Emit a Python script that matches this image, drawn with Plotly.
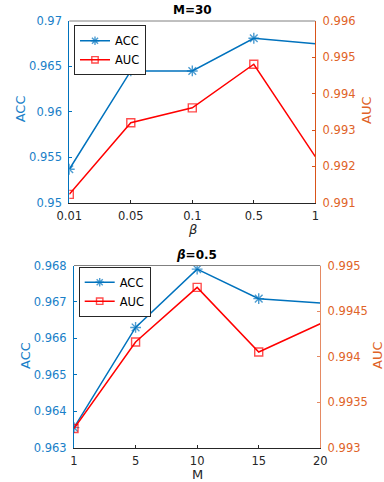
import plotly.graph_objects as go

# ---- data ----
beta_labels = ["0.01", "0.05", "0.1", "0.5", "1"]
acc_beta = [0.95368, 0.9645, 0.9645, 0.9681, 0.9675]
auc_beta = [0.99123, 0.99320, 0.99361, 0.99481, 0.99227]

m_labels = ["1", "5", "10", "15", "20"]
acc_m = [0.96355, 0.96630, 0.96790, 0.96709, 0.96697]
auc_m = [0.99321, 0.99416, 0.99476, 0.99405, 0.99436]

acc_ticks_top = [0.95, 0.955, 0.96, 0.965, 0.97]
acc_ticktext_top = ["0.95", "0.955", "0.96", "0.965", "0.97"]
auc_ticks_top = [0.991, 0.992, 0.993, 0.994, 0.995, 0.996]
auc_ticktext_top = ["0.991", "0.992", "0.993", "0.994", "0.995", "0.996"]

acc_ticks_bot = [0.963, 0.964, 0.965, 0.966, 0.967, 0.968]
acc_ticktext_bot = ["0.963", "0.964", "0.965", "0.966", "0.967", "0.968"]
auc_ticks_bot = [0.993, 0.9935, 0.994, 0.9945, 0.995]
auc_ticktext_bot = ["0.993", "0.9935", "0.994", "0.9945", "0.995"]

# ---- style ----
W, H = 384, 482
FONT = "DejaVu Sans"
BLUE = "#0072BD"
BLUE_T = "#1a80c8"
ORANGE = "#D95319"
ORANGE_T = "#e06328"
RED = "#FF0000"
DARK = "#262626"

def px_x(v):
    return v / W

def px_y(v):
    return 1 - v / H

top_x = [px_x(69.3), px_x(315.3)]
top_y = [px_y(202.7), px_y(21)]
bot_x = [px_x(74), px_x(320.3)]
bot_y = [px_y(447.7), px_y(265.5)]

acc_sizes = [9, 9, 9, 9, 0]
auc_sizes = [8, 8, 8, 8, 0]

fig = go.Figure()

def add_pair(xs, acc, auc, xa, ya, yb, leg):
    fig.add_trace(go.Scatter(
        x=xs, y=acc, name="ACC", mode="lines+markers",
        line=dict(color=BLUE, width=1.5),
        marker=dict(symbol="asterisk-open", size=acc_sizes, color=BLUE,
                    line=dict(color=BLUE, width=1.4)),
        xaxis=xa, yaxis=ya, legend=leg))
    fig.add_trace(go.Scatter(
        x=xs, y=auc, name="AUC", mode="lines+markers",
        line=dict(color=RED, width=1.5),
        marker=dict(symbol="square-open", size=auc_sizes, color=RED,
                    line=dict(color=RED, width=1.4)),
        xaxis=xa, yaxis=yb, legend=leg))

add_pair(beta_labels, acc_beta, auc_beta, "x", "y", "y2", "legend")
add_pair(m_labels, acc_m, auc_m, "x2", "y3", "y4", "legend2")

TS = 11.5

def xax(domain, anchor):
    return dict(type="category", domain=domain, anchor=anchor, range=[0, 4],
                showgrid=False, zeroline=False, showline=True, automargin=False,
                linecolor=DARK, linewidth=1, ticks="inside", ticklen=3, tickcolor=DARK,
                tickfont=dict(family=FONT, size=TS, color=DARK), ticklabelstandoff=2,
                fixedrange=True)

def yax(rng, vals, texts, color, tcolor, side, **kw):
    d = dict(range=rng, tickvals=vals, ticktext=texts, side=side,
             showgrid=False, zeroline=False, showline=True, automargin=False,
             linecolor=color, linewidth=1, ticks="inside", ticklen=3, tickcolor=color,
             tickfont=dict(family=FONT, size=TS, color=tcolor), ticklabelstandoff=4,
             fixedrange=True)
    d.update(kw)
    return d

leg_common = dict(xanchor="left", yanchor="top", bgcolor="white", bordercolor=DARK,
                  borderwidth=1, font=dict(family=FONT, size=11.5, color="black"),
                  itemwidth=30, tracegroupgap=0)

fig.update_layout(
    template="none",
    width=W, height=H, margin=dict(l=0, r=0, t=0, b=0, pad=0),
    paper_bgcolor="white", plot_bgcolor="white",
    xaxis=xax(top_x, "y"),
    yaxis=yax([0.95, 0.97], acc_ticks_top, acc_ticktext_top, BLUE, BLUE_T, "left",
              domain=top_y, anchor="x"),
    yaxis2=yax([0.991, 0.996], auc_ticks_top, auc_ticktext_top, ORANGE, ORANGE_T, "right",
               anchor="x", overlaying="y"),
    xaxis2=xax(bot_x, "y3"),
    yaxis3=yax([0.963, 0.968], acc_ticks_bot, acc_ticktext_bot, BLUE, BLUE_T, "left",
               domain=bot_y, anchor="x2"),
    yaxis4=yax([0.993, 0.995], auc_ticks_bot, auc_ticktext_bot, "#e58a63", ORANGE_T, "right",
               anchor="x2", overlaying="y3"),
    legend=dict(leg_common, x=px_x(74), y=px_y(25.3)),
    legend2=dict(leg_common, x=px_x(78.7), y=px_y(266.7)),
    showlegend=True,
)

# top border of each box
fig.add_shape(type="line", xref="x domain", yref="y domain", x0=0, x1=1, y0=1, y1=1,
              line=dict(color="#808080", width=1))
fig.add_shape(type="line", xref="x2 domain", yref="y3 domain", x0=0, x1=1, y0=1, y1=1,
              line=dict(color="#808080", width=1))

def label(text, x, y, size, color, angle=0):
    return dict(text=text, x=px_x(x), y=px_y(y), xref="paper", yref="paper",
                textangle=angle, showarrow=False, xanchor="center", yanchor="middle",
                font=dict(family=FONT, size=size, color=color))

fig.update_layout(annotations=[
    label("<b>M=30</b>", 192.3, 9.5, 12, "black"),
    label("<b><i>β</i>=0.5</b>", 196, 254.5, 12, "black"),
    label("ACC", 21.3, 109, 13, BLUE_T, -90),
    label("AUC", 367, 110, 13, ORANGE_T, -90),
    label("ACC", 25.5, 355.5, 13, BLUE_T, -90),
    label("AUC", 377, 355, 13, ORANGE_T, -90),
    label("<i>β</i>", 192.3, 229, 13, DARK),
    label("M", 197, 474.5, 13, DARK),
])

fig.write_html("out.html",
               config={"displayModeBar": False},
               post_script="document.body.style.margin='0';document.body.style.overflow='hidden';")
